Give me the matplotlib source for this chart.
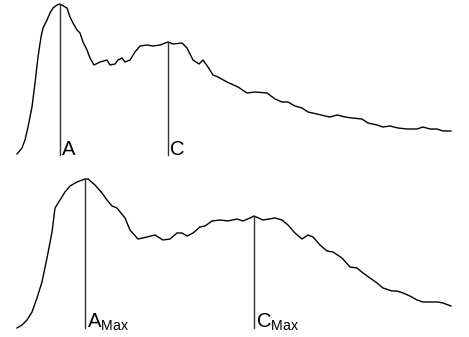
import matplotlib
matplotlib.use("Agg")
import matplotlib.pyplot as plt

plt.rcParams['font.family'] = ['Liberation Sans', 'DejaVu Sans']
plt.rcParams['mathtext.fontset'] = 'custom'
plt.rcParams['mathtext.rm'] = 'Liberation Sans'

# top trace: position and depth below the top edge
top_x = [17, 22, 25, 28, 32, 35, 38, 41, 43, 47, 50, 53, 57, 60, 67, 70, 73,
         77, 80, 83, 87, 90, 94, 100, 107, 110, 115, 118, 122, 125, 130, 135,
         140, 147, 153, 160, 168, 173, 182, 187, 193, 199, 203, 208, 213, 218,
         227, 238, 247, 255, 267, 275, 282, 288, 295, 302, 308, 317, 325, 330,
         337, 345, 352, 362, 368, 377, 383, 390, 398, 407, 417, 423, 430, 437,
         443, 451]
top_y = [154, 148, 140, 127, 107, 83, 57, 37, 28, 20, 13, 8, 5, 4, 8, 17, 23,
         30, 33, 42, 50, 58, 65, 62, 60, 65, 64, 60, 58, 62, 60, 52,
         46, 45, 46, 45, 42, 44, 43, 48, 60, 64, 60, 67, 75, 77,
         82, 87, 93, 92, 93, 99, 102, 102, 106, 108, 112, 114, 116, 117,
         115, 117, 118, 119, 123, 125, 127, 126, 128, 129, 129, 127, 129, 129,
         131, 131]
top_base = 155

# bottom trace
bot_x = [17, 22, 27, 32, 37, 42, 47, 52, 55, 60, 65, 70, 77, 85, 88, 95, 102,
         107, 112, 117, 125, 130, 138, 147, 155, 163, 170, 177, 182, 187, 193,
         200, 205, 212, 220, 228, 237, 243, 250, 254, 263, 275, 282, 288, 295,
         302, 308, 313, 320, 327, 333, 342, 350, 357, 363, 370, 377, 383, 392,
         397, 403, 410, 417, 423, 430, 438, 443, 451]
bot_y = [328, 325, 320, 312, 298, 282, 258, 232, 208, 200, 192, 186, 182, 179,
         179, 185, 193, 200, 206, 208, 218, 230, 239, 237, 235, 240, 239, 233,
         233, 236, 233, 227, 226, 221, 220, 221, 219, 221, 218, 216, 220, 218,
         220, 225, 233, 239, 235, 237, 245, 251, 252, 258, 267, 268, 273, 278,
         283, 288, 291, 291, 293, 296, 300, 302, 302, 302, 303, 306]
bot_base = 328

top_marks = [(60, 4, 'A'), (168, 42, 'C')]
bot_marks = [(85, 179, r'A$_{\rm Max}$'), (254, 216, r'C$_{\rm Max}$')]

fig = plt.figure(figsize=(4.69, 3.37), dpi=100)
ax1 = fig.add_axes([0, 1 - 165 / 337, 1, 165 / 337])
ax2 = fig.add_axes([0, 0, 1, 169 / 337])

for ax, xs, ys, base, marks, lo, hi in [
        (ax1, top_x, top_y, top_base, top_marks, -10, 155),
        (ax2, bot_x, bot_y, bot_base, bot_marks, -9, 160)]:
    h = [base - v for v in ys]
    ax.plot(xs, h, color='black', lw=1.0)
    for mx, my, lab in marks:
        ax.plot([mx, mx], [0, base - my], color='#333333', lw=1.0)
        ax.text(mx + 2, 0, lab, fontsize=14.5, ha='left', va='baseline')
    ax.set_xlim(0, 469)
    ax.set_ylim(lo, hi)
    ax.axis('off')

fig.savefig('out.png', dpi=100)
